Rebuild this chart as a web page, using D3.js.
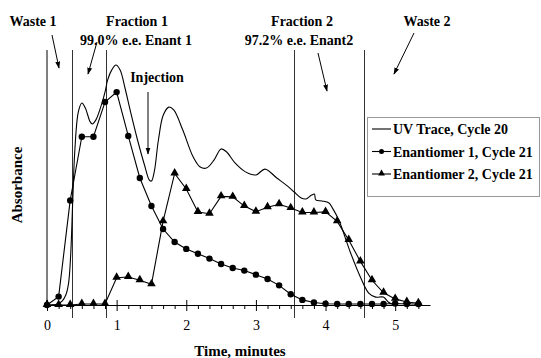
<!DOCTYPE html>
<html>
<head>
<meta charset="utf-8">
<script src="https://cdn.jsdelivr.net/npm/d3@7"></script>
<style>
  body { margin: 0; background: #fff; }
  svg text { font-family: "Liberation Serif", "DejaVu Serif", serif !important; }
</style>
</head>
<body>
<div id="plot"></div>
<script>
const W = 541, H = 358;

// Data
const sampleTimes = [0, 0.167, 0.333, 0.5, 0.667, 0.833, 1, 1.167, 1.333, 1.5, 1.667, 1.833,
  2, 2.167, 2.333, 2.5, 2.667, 2.833, 3, 3.167, 3.333, 3.5, 3.667, 3.833,
  4, 4.167, 4.333, 4.5, 4.667, 4.833, 5, 5.167, 5.333];
const enant1 = [0, 0.033, 0.41, 0.66, 0.66, 0.796, 0.835, 0.663, 0.498, 0.388, 0.298, 0.247,
  0.22, 0.201, 0.182, 0.161, 0.145, 0.135, 0.119, 0.102, 0.077, 0.042, 0.02, 0.01,
  0.005, 0.004, 0.004, 0.004, 0.004, 0.004, 0.006, 0.004, 0.004];
const enant2 = [0, 0, 0, 0.004, 0.004, 0.004, 0.107, 0.11, 0.097, 0.081, 0.328, 0.516,
  0.455, 0.365, 0.358, 0.426, 0.424, 0.388, 0.366, 0.383, 0.395, 0.38, 0.363, 0.363,
  0.365, 0.328, 0.255, 0.171, 0.097, 0.048, 0.024, 0.012, 0.007];

const uvTimes = [0, 0.15, 0.22, 0.27, 0.31, 0.34, 0.37, 0.40, 0.45, 0.5, 0.55, 0.62, 0.65, 0.7,
  0.78, 0.84, 0.87, 0.93, 0.99, 1.05, 1.12, 1.2, 1.3, 1.4, 1.47, 1.5, 1.54, 1.6, 1.67,
  1.75, 1.82, 1.95, 2.1, 2.2, 2.29, 2.4, 2.5, 2.58, 2.7, 2.85, 3.0, 3.13, 3.3, 3.45,
  3.55, 3.65, 3.72, 3.8, 3.84, 3.86, 3.95, 4.05, 4.1, 4.19, 4.36, 4.5, 4.62, 4.72,
  4.83, 4.9, 4.95, 5.0];
const uvTrace = [0, 0.004, 0.016, 0.039, 0.086, 0.196, 0.412, 0.608, 0.757, 0.792, 0.773, 0.718,
  0.71, 0.725, 0.784, 0.843, 0.882, 0.922, 0.941, 0.922, 0.851, 0.757, 0.647, 0.549,
  0.49, 0.486, 0.522, 0.647, 0.745, 0.776, 0.765, 0.686, 0.58, 0.541, 0.537, 0.569,
  0.612, 0.6, 0.557, 0.522, 0.51, 0.533, 0.498, 0.467, 0.443, 0.42, 0.416, 0.431,
  0.435, 0.412, 0.408, 0.4, 0.38, 0.333, 0.204, 0.11, 0.047, 0.031, 0.031, 0.012,
  0.004, 0];

// fraction cut points (minutes)
const cutTimes = [0.36, 0.85, 3.55, 4.55];
const xTickLabels = [0, 1, 2, 3, 4, 5];
const minorTicks = [0.167, 0.333, 0.5, 0.667, 0.833, 1.167, 1.333, 1.5, 1.667, 1.833,
  2.167, 2.333, 2.5, 2.667, 2.833, 3.167, 3.333, 3.5, 3.667, 3.833,
  4.167, 4.333, 4.5, 4.667, 4.833, 5.167, 5.333];

const legendItems = ["UV Trace, Cycle 20", "Enantiomer 1, Cycle 21", "Enantiomer 2, Cycle 21"];

const serif = "'Liberation Serif', 'DejaVu Serif', serif";

const svg = d3.select("#plot")
  .append("svg")
    .attr("width", W)
    .attr("height", H)
    .attr("font-family", serif);

const x = d3.scaleLinear().domain([0, 5.5]).range([47, 430]);
const y = d3.scaleLinear().domain([0, 1]).range([305, 50]);

// vertical fraction lines
svg.append("line")
  .attr("x1", x(0)).attr("x2", x(0))
  .attr("y1", y(1)).attr("y2", y(0))
  .attr("stroke", "#000");
svg.selectAll(".cut")
  .data(cutTimes)
  .join("line")
    .attr("class", "cut")
    .attr("x1", d => Math.round(x(d)) + 0.5).attr("x2", d => Math.round(x(d)) + 0.5)
    .attr("y1", y(1)).attr("y2", 318)
    .attr("stroke", "#333");

// X axis, minor ticks
svg.append("g")
  .attr("transform", `translate(0,${y(0)})`)
  .call(d3.axisBottom(x).tickValues(minorTicks).tickSize(4).tickFormat(""))
  .call(g => g.select(".domain").remove());

// X axis, major ticks and labels
const xAxis = svg.append("g")
  .attr("transform", `translate(0,${y(0)})`)
  .call(d3.axisBottom(x).tickValues(xTickLabels).tickFormat(d3.format("d"))
    .tickSize(6).tickSizeOuter(0).tickPadding(9));
xAxis.attr("font-family", serif);
xAxis.select(".domain").attr("stroke", "#000").attr("stroke-width", 1.2);
xAxis.selectAll(".tick line").attr("y1", -5);
xAxis.selectAll(".tick text")
  .style("font-size", "14px")
  .attr("fill", "#000");

// UV trace
const smooth = d3.line().x(d => x(d[0])).y(d => y(d[1])).curve(d3.curveCatmullRom.alpha(0.5));
svg.append("path")
  .datum(uvTimes.map((t, i) => [t, uvTrace[i]]))
  .attr("fill", "none")
  .attr("stroke", "#000")
  .attr("stroke-width", 1.1)
  .attr("d", smooth);

const plain = d3.line().x(d => x(d[0])).y(d => y(d[1]));

// Enantiomer 1
const e1 = sampleTimes.map((t, i) => [t, enant1[i]]);
svg.append("path")
  .datum(e1)
  .attr("fill", "none").attr("stroke", "#000").attr("stroke-width", 1.1)
  .attr("d", plain);
svg.selectAll(".dot")
  .data(e1)
  .join("circle")
    .attr("class", "dot")
    .attr("cx", d => x(d[0])).attr("cy", d => y(d[1]))
    .attr("r", 3.2).attr("fill", "#000");

// Enantiomer 2
const e2 = sampleTimes.map((t, i) => [t, enant2[i]]);
svg.append("path")
  .datum(e2)
  .attr("fill", "none").attr("stroke", "#000").attr("stroke-width", 1.1)
  .attr("d", plain);
const tri = d3.symbol().type(d3.symbolTriangle).size(32);
svg.selectAll(".tri")
  .data(e2)
  .join("path")
    .attr("class", "tri")
    .attr("transform", d => `translate(${x(d[0])},${y(d[1]) - 0.5})`)
    .attr("d", tri).attr("fill", "#000");

// annotations
const notes = [
  { text: "Waste 1", x: 33, y: 26 },
  { text: "Fraction 1", x: 137, y: 26 },
  { text: "99.0% e.e. Enant 1", x: 136, y: 45 },
  { text: "Fraction 2", x: 302, y: 26 },
  { text: "97.2% e.e. Enant2", x: 299, y: 45 },
  { text: "Waste 2", x: 427, y: 26 },
  { text: "Injection", x: 157, y: 82 }
];
svg.selectAll(".note")
  .data(notes)
  .join("text")
    .attr("class", "note")
    .attr("x", d => d.x).attr("y", d => d.y)
    .attr("text-anchor", "middle")
    .style("font-size", "14px").style("font-weight", "bold")
    .text(d => d.text);

svg.append("defs").append("marker")
  .attr("id", "arr")
  .attr("viewBox", "0 0 10 10")
  .attr("refX", 9).attr("refY", 5)
  .attr("markerWidth", 7).attr("markerHeight", 7)
  .attr("orient", "auto")
  .append("path").attr("d", "M0,1.5L10,5L0,8.5z").attr("fill", "#000");

const arrows = [
  [52, 35, 59, 68],
  [97, 42, 88, 74],
  [148, 92, 148, 154],
  [318, 53, 327, 91],
  [414, 33, 394, 74]
];
svg.selectAll(".arrow")
  .data(arrows)
  .join("line")
    .attr("class", "arrow")
    .attr("x1", d => d[0]).attr("y1", d => d[1])
    .attr("x2", d => d[2]).attr("y2", d => d[3])
    .attr("stroke", "#000").attr("stroke-width", 1)
    .attr("marker-end", "url(#arr)");

// axis titles
svg.append("text")
  .attr("x", 240).attr("y", 356)
  .attr("text-anchor", "middle")
  .style("font-size", "15px").style("font-weight", "bold")
  .text("Time, minutes");
svg.append("text")
  .attr("transform", "translate(22,185) rotate(-90)")
  .attr("text-anchor", "middle")
  .style("font-size", "15px").style("font-weight", "bold")
  .text("Absorbance");

// legend
const lg = svg.append("g").attr("transform", "translate(367,117)");
lg.append("rect")
  .attr("x", 0.5).attr("y", 0.5).attr("width", 172).attr("height", 79)
  .attr("fill", "#fff").attr("stroke", "#999");
const rows = lg.selectAll(".row")
  .data(legendItems)
  .join("g")
    .attr("class", "row")
    .attr("transform", (d, i) => `translate(0,${12 + i * 22.5})`);
rows.append("line")
  .attr("x1", 5).attr("x2", 24).attr("y1", 0).attr("y2", 0)
  .attr("stroke", "#000").attr("stroke-width", 1.1);
rows.filter((d, i) => i === 1).append("circle")
  .attr("cx", 14.5).attr("cy", 0).attr("r", 2.5).attr("fill", "#000");
rows.filter((d, i) => i === 2).append("path")
  .attr("transform", "translate(14.5,-0.5)")
  .attr("d", d3.symbol().type(d3.symbolTriangle).size(20)).attr("fill", "#000");
rows.append("text")
  .attr("x", 26).attr("y", 5)
  .style("font-size", "14px").style("font-weight", "bold")
  .text(d => d);
</script>
</body>
</html>
